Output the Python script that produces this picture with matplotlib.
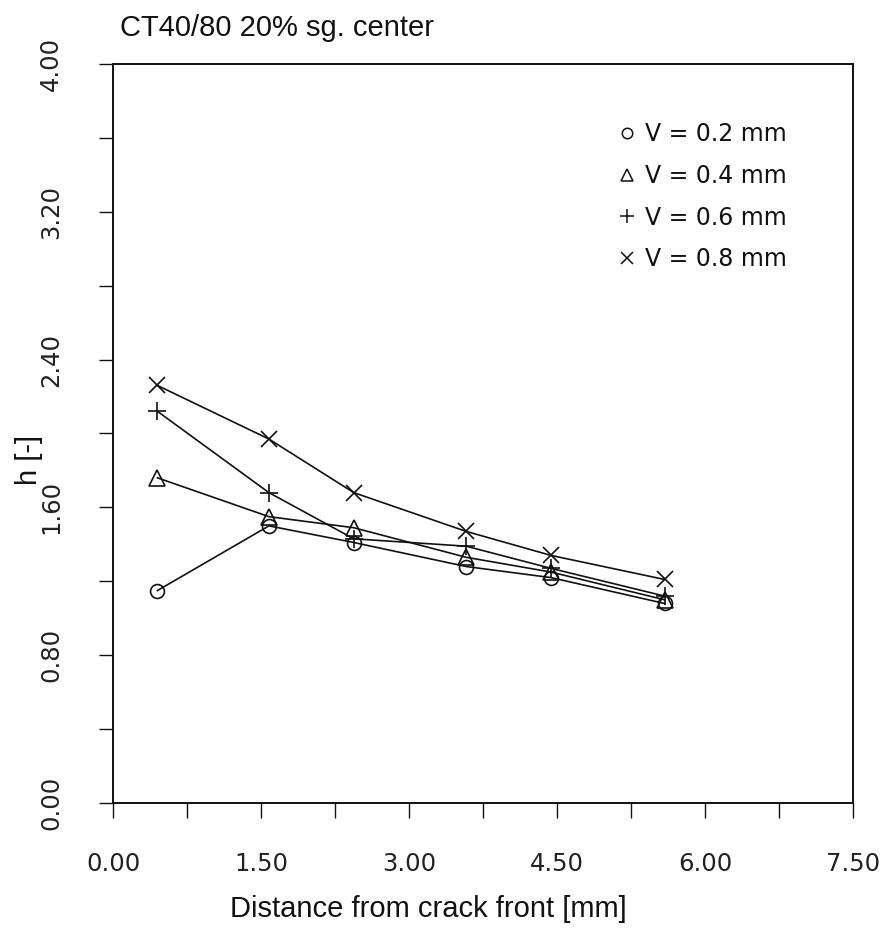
import matplotlib
matplotlib.use("Agg")
import matplotlib.pyplot as plt
from matplotlib.lines import Line2D
import numpy as np

# ---- data ----
distance = [0.45, 1.58, 2.44, 3.58, 4.44, 5.59]
h_v02 = [1.15, 1.50, 1.41, 1.28, 1.22, 1.08]
h_v04 = [1.76, 1.55, 1.49, 1.33, 1.25, 1.10]
h_v06 = [2.12, 1.68, 1.43, 1.39, 1.27, 1.12]
h_v08 = [2.26, 1.97, 1.68, 1.47, 1.34, 1.21]
series_labels = ["V = 0.2 mm", "V = 0.4 mm", "V = 0.6 mm", "V = 0.8 mm"]
x_ticks = [0.0, 1.5, 3.0, 4.5, 6.0, 7.5]
x_ticklabels = ["0.00", "1.50", "3.00", "4.50", "6.00", "7.50"]
y_ticks = [0.0, 0.8, 1.6, 2.4, 3.2, 4.0]
y_ticklabels = ["0.00", "0.80", "1.60", "2.40", "3.20", "4.00"]
title = "CT40/80 20% sg. center"
xlabel = "Distance from crack front [mm]"
ylabel = "h [-]"

fig = plt.figure(figsize=(8.83, 9.38), dpi=100)
ax = fig.add_axes([0.128, 0.1439, 0.838, 0.7879])

ink = "#111111"
styles = [
    dict(marker="o", markersize=10, markerfacecolor="none"),
    dict(marker="^", markersize=11, markerfacecolor="none"),
    dict(marker="+", markersize=13),
    dict(marker="x", markersize=12),
]
series = [h_v02, h_v04, h_v06, h_v08]
for ys, st in zip(series, styles):
    ax.plot(distance, ys, color=ink, linewidth=1.2, markeredgewidth=1.2,
            markeredgecolor=ink, **st)

ax.set_xlim(0, 7.5)
ax.set_ylim(0, 4.0)

tick_font = dict(family=["DejaVu Sans"], size=17.5, color="#222222")
ax.set_xticks(x_ticks)
ax.set_xticklabels(x_ticklabels, fontdict=tick_font)
ax.set_xticks(np.arange(0, 7.51, 0.75), minor=True)
ax.set_yticks(y_ticks)
ax.set_yticklabels(y_ticklabels, fontdict=tick_font, rotation=90, va="center")
ax.set_yticks(np.arange(0, 4.01, 0.4), minor=True)
ax.tick_params(axis="x", which="both", direction="out", length=11, width=1.0, pad=24, colors=ink)
ax.tick_params(axis="y", which="both", direction="out", length=10, width=1.0, pad=26, colors=ink)
for lbl in ax.get_xticklabels() + ax.get_yticklabels():
    lbl.set_color("#222222")
for sp in ax.spines.values():
    sp.set_linewidth(1.4)
    sp.set_color(ink)

sans = ["Liberation Sans", "DejaVu Sans"]
ax.set_xlabel(xlabel, fontsize=21, family=sans, color=ink)
ax.xaxis.set_label_coords(0.426, -0.125)
ax.set_ylabel(ylabel, fontsize=21, family=sans, color=ink)
ax.yaxis.set_label_coords(-0.094, 0.464)
fig.text(0.136, 0.962, title, fontsize=21, family=sans,
         color=ink, ha="left", va="baseline")

handles = [Line2D([], [], linestyle="none", color=ink, markeredgecolor=ink,
                  markeredgewidth=1.1, **dict(st, markersize=st["markersize"] * 0.75))
           for st in styles]
leg = ax.legend(handles, series_labels, loc="upper right", bbox_to_anchor=(0.94, 0.95),
                frameon=False, handlelength=0.6, handletextpad=0.5, labelspacing=0.75,
                prop={"family": ["DejaVu Sans"], "size": 17})
for t in leg.get_texts():
    t.set_color(ink)

fig.savefig("out.png", dpi=100)
